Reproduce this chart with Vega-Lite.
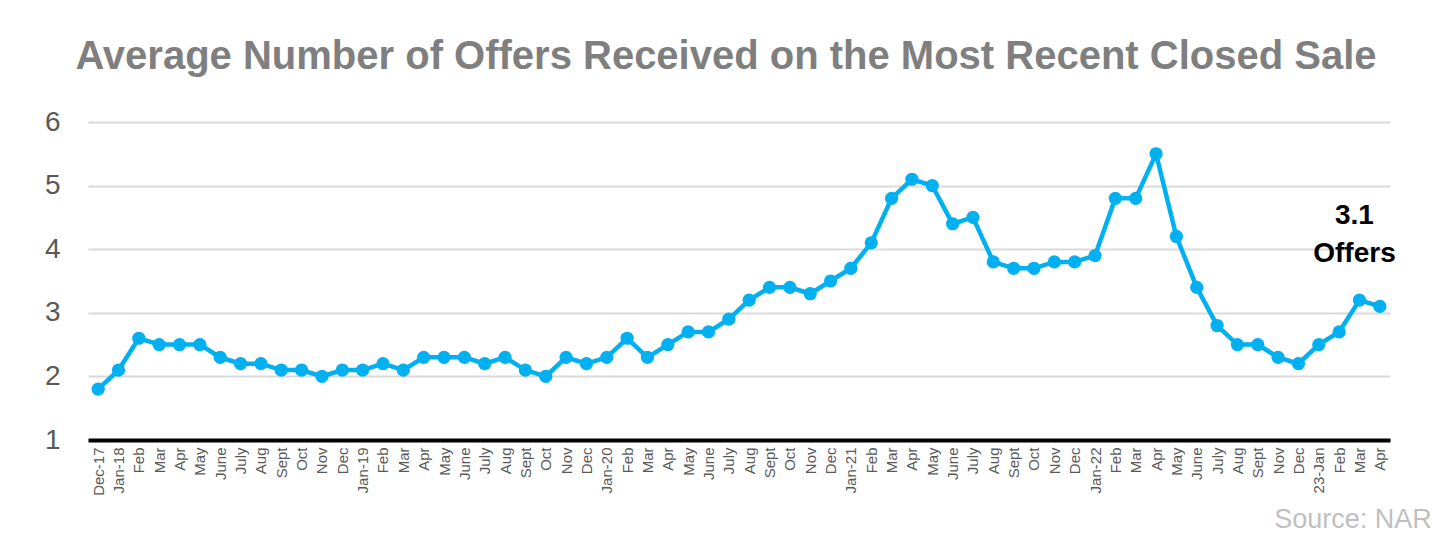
{
  "$schema": "https://vega.github.io/schema/vega-lite/v6.json",
  "width": 1302,
  "height": 318,
  "autosize": {"type": "none"},
  "padding": {"left": 88, "top": 122, "right": 49, "bottom": 97},
  "background": "white",
  "title": {
    "text": "Average Number of Offers Received on the Most Recent Closed Sale",
    "font": "Liberation Sans",
    "fontSize": 40,
    "fontWeight": "bold",
    "color": "#7f7f7f",
    "anchor": "middle",
    "dx": -13,
    "offset": 31
  },
  "config": {
    "view": {"stroke": null},
    "font": "Liberation Sans"
  },
  "data": {
    "values": [
      {"m": "2017-12", "v": 1.8},
      {"m": "2018-01", "v": 2.1},
      {"m": "2018-02", "v": 2.6},
      {"m": "2018-03", "v": 2.5},
      {"m": "2018-04", "v": 2.5},
      {"m": "2018-05", "v": 2.5},
      {"m": "2018-06", "v": 2.3},
      {"m": "2018-07", "v": 2.2},
      {"m": "2018-08", "v": 2.2},
      {"m": "2018-09", "v": 2.1},
      {"m": "2018-10", "v": 2.1},
      {"m": "2018-11", "v": 2.0},
      {"m": "2018-12", "v": 2.1},
      {"m": "2019-01", "v": 2.1},
      {"m": "2019-02", "v": 2.2},
      {"m": "2019-03", "v": 2.1},
      {"m": "2019-04", "v": 2.3},
      {"m": "2019-05", "v": 2.3},
      {"m": "2019-06", "v": 2.3},
      {"m": "2019-07", "v": 2.2},
      {"m": "2019-08", "v": 2.3},
      {"m": "2019-09", "v": 2.1},
      {"m": "2019-10", "v": 2.0},
      {"m": "2019-11", "v": 2.3},
      {"m": "2019-12", "v": 2.2},
      {"m": "2020-01", "v": 2.3},
      {"m": "2020-02", "v": 2.6},
      {"m": "2020-03", "v": 2.3},
      {"m": "2020-04", "v": 2.5},
      {"m": "2020-05", "v": 2.7},
      {"m": "2020-06", "v": 2.7},
      {"m": "2020-07", "v": 2.9},
      {"m": "2020-08", "v": 3.2},
      {"m": "2020-09", "v": 3.4},
      {"m": "2020-10", "v": 3.4},
      {"m": "2020-11", "v": 3.3},
      {"m": "2020-12", "v": 3.5},
      {"m": "2021-01", "v": 3.7},
      {"m": "2021-02", "v": 4.1},
      {"m": "2021-03", "v": 4.8},
      {"m": "2021-04", "v": 5.1},
      {"m": "2021-05", "v": 5.0},
      {"m": "2021-06", "v": 4.4},
      {"m": "2021-07", "v": 4.5},
      {"m": "2021-08", "v": 3.8},
      {"m": "2021-09", "v": 3.7},
      {"m": "2021-10", "v": 3.7},
      {"m": "2021-11", "v": 3.8},
      {"m": "2021-12", "v": 3.8},
      {"m": "2022-01", "v": 3.9},
      {"m": "2022-02", "v": 4.8},
      {"m": "2022-03", "v": 4.8},
      {"m": "2022-04", "v": 5.5},
      {"m": "2022-05", "v": 4.2},
      {"m": "2022-06", "v": 3.4},
      {"m": "2022-07", "v": 2.8},
      {"m": "2022-08", "v": 2.5},
      {"m": "2022-09", "v": 2.5},
      {"m": "2022-11", "v": 2.3},
      {"m": "2022-12", "v": 2.2},
      {"m": "2023-01", "v": 2.5},
      {"m": "2023-02", "v": 2.7},
      {"m": "2023-03", "v": 3.2},
      {"m": "2023-04", "v": 3.1}
    ]
  },
  "encoding": {
    "x": {
      "field": "m",
      "type": "ordinal",
      "sort": null,
      "scale": {"type": "point", "padding": 0.5},
      "axis": {
        "title": null,
        "labelAngle": -90,
        "labelAlign": "right",
        "labelBaseline": "middle",
        "labelFontSize": 15,
        "labelColor": "#595959",
        "labelPadding": 7,
        "labelOverlap": false,
        "ticks": false,
        "domainColor": "black",
        "domainWidth": 4,
        "labelExpr": "datum.value == '2017-12' ? 'Dec-17' : datum.value == '2023-01' ? '23-Jan' : substring(datum.value, 5, 7) == '01' ? 'Jan-' + substring(datum.value, 2, 4) : ['', '', 'Feb', 'Mar', 'Apr', 'May', 'June', 'July', 'Aug', 'Sept', 'Oct', 'Nov', 'Dec'][toNumber(substring(datum.value, 5, 7))]"
      }
    },
    "y": {
      "field": "v",
      "type": "quantitative",
      "scale": {"domain": [1, 6], "nice": false},
      "axis": {
        "title": null,
        "values": [1, 2, 3, 4, 5, 6],
        "domain": false,
        "ticks": false,
        "labelFontSize": 28,
        "labelColor": "#595959",
        "labelPadding": 28,
        "gridColor": "#d9d9d9",
        "gridWidth": 2
      }
    }
  },
  "layer": [
    {
      "mark": {"type": "line", "color": "#00B0F0", "strokeWidth": 4.5}
    },
    {
      "mark": {"type": "point", "filled": true, "color": "#00B0F0", "size": 175, "opacity": 1}
    },
    {
      "transform": [{"filter": "datum.m == '2023-03'"}],
      "mark": {
        "type": "text",
        "text": ["3.1", "Offers"],
        "fontSize": 28,
        "fontWeight": "bold",
        "color": "black",
        "align": "center",
        "baseline": "middle",
        "lineHeight": 38,
        "dx": -5
      },
      "encoding": {
        "y": {"datum": 4.52}
      }
    },
    {
      "transform": [{"filter": "datum.m == '2023-04'"}],
      "mark": {
        "type": "text",
        "text": "Source: NAR",
        "fontSize": 27,
        "color": "#bfbfbf",
        "align": "right",
        "baseline": "middle",
        "dx": 52,
        "dy": 80
      },
      "encoding": {
        "y": {"datum": 1}
      }
    }
  ]
}
